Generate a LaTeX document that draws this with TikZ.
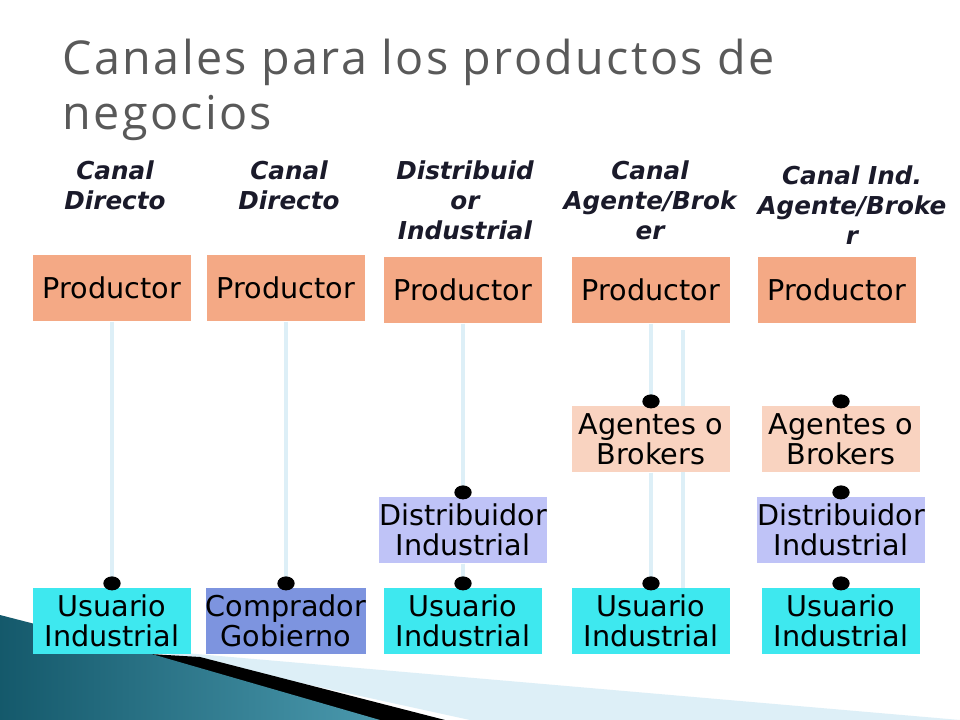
\documentclass[tikz,border=0pt]{standalone}
\usepackage{fontspec}
\usetikzlibrary{shapes.geometric}
\setmainfont{DejaVu Sans}
\newfontfamily\titlefont[LetterSpace=5]{Open Sans}
\begin{document}
\begin{tikzpicture}[x=0.75pt,y=-0.75pt,
 box/.style={minimum width=118.5pt,minimum height=50pt,inner sep=0pt,align=center,font=\fontsize{21.5}{22.5}\selectfont,text=black},
 prod/.style={box,fill=prodc},
 agen/.style={box,fill=agenc},
 dist/.style={box,fill=distc},
 usu/.style={box,fill=usuc},
 gov/.style={box,fill=govc},
 hdr/.style={align=center,font=\fontsize{18.5}{22.5}\selectfont\bfseries\itshape,text=hdrc},
 conn/.style={draw=linec,line width=3pt},
 dot/.style={ellipse,fill=black,minimum width=13pt,minimum height=10.5pt,inner sep=0pt}]
\definecolor{prodc}{HTML}{F4A985}
\definecolor{agenc}{HTML}{F9D3C0}
\definecolor{distc}{HTML}{BFC3F7}
\definecolor{usuc}{HTML}{3EE8EF}
\definecolor{govc}{HTML}{7D94DF}
\definecolor{linec}{HTML}{DDEFF7}
\definecolor{hdrc}{HTML}{1A1A2A}
\definecolor{teal}{HTML}{1D7F99}
\useasboundingbox (0,0) rectangle (960,720);
\fill[white] (0,0) rectangle (960,720);
% decoration
\fill[linec] (150,650) -- (960,720) -- (470,720) -- cycle;
\fill[black] (150,654) -- (200,657) -- (445,720) -- (375,720) -- cycle;
\shade[left color=teal!70!black,right color=teal!80!white] (0,615) -- (155,655) -- (380,720) -- (0,720) -- cycle;
% title
\node[anchor=base west,font=\titlefont\fontsize{35}{40}\selectfont,text=black!65] (t1) at (58,75) {Canales para los productos de};
\node[anchor=base west,font=\titlefont\fontsize{35}{40}\selectfont,text=black!65] (t2) at (58,130) {negocios};
% headers
\node[hdr] (h1) at (115,185) {Canal\\Directo};
\node[hdr] (h2) at (289,185) {Canal\\Directo};
\node[hdr] (h3) at (465,200) {Distribuid\\or\\Industrial};
\node[hdr] (h4) at (650,200) {Canal\\Agente/Brok\\er};
\node[hdr] (h5) at (852,205) {Canal Ind.\\Agente/Broke\\r};
% extra connector behind boxes
\coordinate (c4a) at (683,330);
\coordinate (c4b) at (683,590);
\draw[conn] (c4a) -- (c4b);
% boxes
\node[prod] (p1) at (112,288) {Productor};
\node[usu] (u1) at (112,621) {Usuario\\Industrial};
\node[prod] (p2) at (286,288) {Productor};
\node[gov] (u2) at (286,621) {Comprador\\Gobierno};
\node[prod] (p3) at (463,290) {Productor};
\node[dist] (d3) at (463,530) {Distribuidor\\Industrial};
\node[usu] (u3) at (463,621) {Usuario\\Industrial};
\node[prod] (p4) at (651,290) {Productor};
\node[agen] (a4) at (651,439) {Agentes o\\Brokers};
\node[usu] (u4) at (651,621) {Usuario\\Industrial};
\node[prod] (p5) at (837,290) {Productor};
\node[agen] (a5) at (841,439) {Agentes o\\Brokers};
\node[dist] (d5) at (841,530) {Distribuidor\\Industrial};
\node[usu] (u5) at (841,621) {Usuario\\Industrial};
% links
\draw[conn] (p1.south) -- (u1.north);
\draw[conn] (p2.south) -- (u2.north);
\draw[conn] (p3.south) -- (d3.north);
\draw[conn] (d3.south) -- (u3.north);
\draw[conn] (p4.south) -- (a4.north);
\draw[conn] (a4.south) -- (u4.north);
% dots
\foreach \n in {u1,u2,d3,u3,a4,u4,a5,d5,u5}{\node[dot] at ([yshift=3]\n.north) {};}
\end{tikzpicture}
\end{document}
